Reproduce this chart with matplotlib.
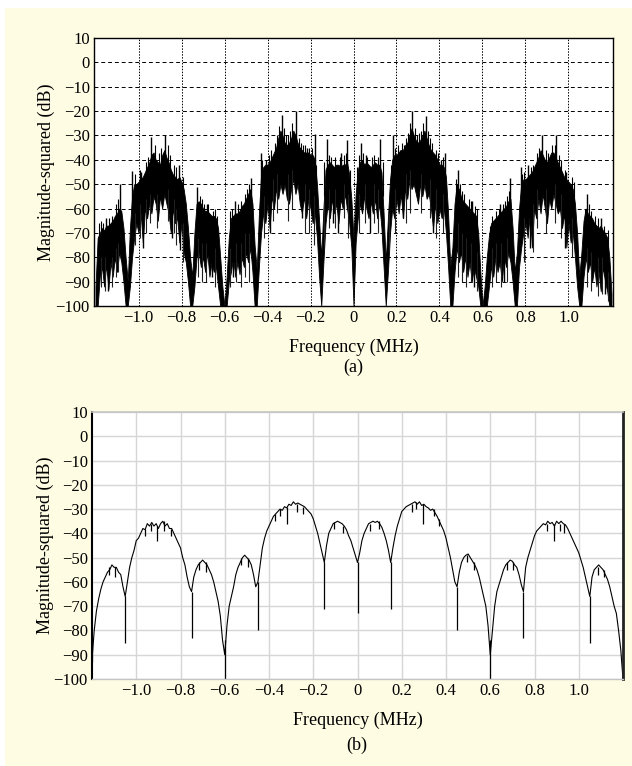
import numpy as np
import matplotlib.pyplot as plt
from matplotlib.patches import Rectangle

plt.rcParams['font.family'] = ['Liberation Serif', 'DejaVu Serif']

# sample frequencies in MHz, 0.01 MHz apart
freq = np.round(np.linspace(-1.2, 1.2, 241), 2)

# (a) noisy spectrum, read as the top and bottom edge of the black band (dB)
upper_a = [
    -92, -72, -70, -68, -69, -67, -67, -66, -65, -63,
    -62, -60, -61, -68, -80, -90, -68, -55, -50, -50,
    -49, -48, -47, -45, -43, -41, -38, -37, -40, -41,
    -42, -38, -36, -39, -41, -44, -46, -47, -48, -47,
    -49, -52, -58, -68, -80, -88, -70, -58, -57, -58,
    -60, -61, -61, -62, -63, -63, -64, -68, -80, -92,
    -100, -88, -72, -64, -63, -62, -62, -61, -59, -58,
    -56, -54, -52, -58, -75, -85, -62, -46, -43, -42,
    -42, -41, -39, -37, -35, -31, -28, -30, -33, -34,
    -33, -31, -28, -30, -33, -35, -36, -37, -37, -37,
    -38, -38, -40, -50, -65, -80, -60, -44, -42, -41,
    -42, -43, -42, -42, -43, -42, -42, -41, -46, -56,
    -72, -54, -44, -41, -40, -42, -41, -42, -43, -42,
    -41, -42, -42, -45, -62, -82, -64, -48, -40, -38,
    -38, -37, -36, -36, -34, -33, -30, -27, -30, -32,
    -33, -32, -30, -28, -31, -34, -36, -37, -38, -40,
    -42, -42, -43, -47, -62, -84, -76, -58, -50, -52,
    -55, -57, -58, -59, -60, -61, -62, -63, -70, -86,
    -100, -92, -80, -71, -66, -65, -64, -63, -62, -61,
    -60, -59, -57, -56, -68, -86, -78, -60, -50, -48,
    -48, -47, -46, -45, -43, -41, -39, -36, -38, -40,
    -41, -39, -37, -37, -39, -41, -43, -45, -47, -48,
    -49, -50, -52, -58, -70, -88, -78, -65, -60, -62,
    -63, -64, -66, -67, -68, -67, -69, -70, -72, -80,
    -95,
]
lower_a = [
    -100, -100, -88, -84, -92, -83, -93, -82, -88, -80,
    -86, -78, -82, -90, -100, -100, -92, -80, -72, -66,
    -70, -62, -74, -60, -64, -58, -62, -55, -58, -65,
    -55, -60, -54, -58, -62, -70, -60, -66, -64, -74,
    -66, -78, -82, -90, -100, -100, -92, -80, -78, -84,
    -80, -86, -78, -88, -82, -86, -84, -92, -100, -100,
    -100, -100, -90, -86, -80, -88, -82, -87, -80, -84,
    -78, -82, -76, -86, -100, -100, -84, -70, -62, -66,
    -58, -68, -55, -60, -52, -56, -50, -54, -50, -56,
    -58, -52, -48, -54, -50, -58, -62, -55, -64, -56,
    -60, -66, -62, -72, -88, -100, -82, -66, -58, -64,
    -56, -62, -58, -66, -56, -60, -54, -60, -66, -76,
    -100, -74, -64, -58, -62, -55, -60, -64, -57, -62,
    -56, -64, -58, -68, -84, -100, -86, -70, -60, -64,
    -56, -62, -54, -64, -52, -56, -48, -52, -50, -54,
    -58, -50, -55, -50, -56, -54, -60, -68, -58, -66,
    -60, -64, -60, -70, -84, -100, -100, -86, -76, -82,
    -78, -86, -80, -88, -82, -90, -84, -88, -92, -100,
    -100, -100, -100, -92, -84, -88, -80, -86, -82, -90,
    -80, -84, -78, -82, -90, -100, -100, -84, -76, -70,
    -66, -72, -62, -76, -60, -64, -56, -62, -54, -60,
    -66, -56, -60, -54, -58, -62, -60, -68, -62, -76,
    -66, -74, -70, -80, -92, -100, -100, -88, -80, -86,
    -82, -90, -84, -92, -86, -94, -84, -90, -94, -100,
    -100,
]

# (a) the tall spikes and deep dips sticking out of the band
spike_f = [-1.15, -1.085, -1.028, -0.99, -0.94, -0.878, -0.81, -0.727, -0.68,
           -0.55, -0.479, -0.43, -0.405, -0.332, -0.268, -0.215, -0.18, -0.123,
           -0.06, -0.028, 0.037, 0.06, 0.125, 0.184, 0.215, 0.273, 0.336, 0.405,
           0.425, 0.486, 0.55, 0.68, 0.73, 0.78, 0.81, 0.877, 0.941, 0.99, 1.087,
           1.15,
           -1.141, -0.978, -0.846, -0.807, -0.66, -0.56, -0.39, -0.24, -0.095,
           -0.072, 0.076, 0.231, 0.37, 0.56, 0.70, 0.82, 0.983, 1.17]
spike_lo = [-85, -70, -62, -60, -55, -55, -60, -75, -80,
            -80, -70, -60, -60, -50, -50, -55, -55, -60,
            -55, -60, -60, -55, -60, -60, -55, -50, -50, -60,
            -60, -70, -80, -80, -75, -65, -60, -55, -55, -60, -70,
            -85,
            -94, -76, -72, -77, -88, -88, -70, -64, -66,
            -70, -70, -64, -70, -92, -90, -76, -76, -95]
spike_hi = [-64, -50, -44.5, -45, -30.5, -30, -42, -51, -58,
            -57, -47.5, -37, -40, -21.5, -20, -35, -29.5, -31.5,
            -37, -32, -33, -38, -31.5, -30, -36, -20, -22, -40,
            -37, -44, -57, -58, -47.5, -43, -42, -30, -30, -45, -54,
            -64,
            -80, -60, -55, -60, -78, -78, -50, -50, -50,
            -50, -50, -50, -50, -80, -80, -60, -60, -85]

# (a) the finer teeth along the top edge of the band
teeth_up_f = [-1.185, -1.175, -1.165, -1.135, -1.125, -1.105, -1.095,
              -1.015, -0.995, -0.965, -0.955, -0.925, -0.905, -0.895, -0.865,
              -0.855, -0.835, -0.825, -0.795,
              -0.715, -0.705, -0.695, -0.675, -0.655, -0.645, -0.635,
              -0.575, -0.565, -0.535, -0.525, -0.505, -0.495, -0.485,
              -0.425, -0.395, -0.385, -0.365, -0.355, -0.345, -0.325, -0.315,
              -0.305, -0.295, -0.285, -0.255, -0.245, -0.235, -0.225, -0.205,
              -0.195, -0.175,
              -0.135, -0.115, -0.105, -0.085, -0.065, -0.045, -0.035, -0.015,
              0.015, 0.025, 0.045, 0.065, 0.085, 0.095, 0.115, 0.135,
              0.175, 0.195, 0.205, 0.225, 0.235, 0.245, 0.255, 0.265, 0.285,
              0.295, 0.305, 0.315, 0.325, 0.345, 0.355, 0.365, 0.385, 0.395,
              0.415,
              0.475, 0.495, 0.505, 0.515, 0.535, 0.545, 0.565, 0.575,
              0.635, 0.645, 0.665, 0.675, 0.695, 0.705, 0.715, 0.725,
              0.785, 0.795, 0.825, 0.835, 0.855, 0.865, 0.895, 0.905, 0.925,
              0.935, 0.955, 0.965, 0.985, 1.015, 1.025,
              1.075, 1.095, 1.105, 1.125, 1.135, 1.165, 1.185]
teeth_up_lo = [-80, -80, -80, -78, -78, -75, -72,
               -60, -58, -55, -52, -50, -52, -50, -50,
               -52, -55, -56, -60,
               -75, -75, -75, -75, -78, -78, -80,
               -78, -76, -74, -72, -70, -68, -66,
               -52, -50, -48, -46, -45, -42, -42, -44,
               -44, -42, -40, -44, -46, -48, -48, -50,
               -50, -55,
               -55, -52, -52, -52, -52, -52, -52, -58,
               -56, -52, -52, -52, -52, -52, -52, -55,
               -55, -50, -48, -48, -46, -44, -42, -40, -42,
               -44, -42, -42, -40, -42, -44, -46, -48, -50,
               -52,
               -64, -66, -68, -70, -72, -74, -75, -76,
               -80, -78, -76, -75, -74, -72, -70, -68,
               -60, -58, -56, -55, -50, -50, -50, -50, -48,
               -48, -52, -54, -58, -60, -62,
               -75, -72, -74, -76, -78, -80, -82]
teeth_up_hi = [-66, -65, -66, -64, -63, -58, -56,
               -46, -44, -41, -39, -34, -37, -35, -34,
               -38, -42, -43, -47,
               -55, -56, -58, -58, -61, -60, -63,
               -61, -60, -58, -57, -54, -52, -50,
               -40, -38, -36, -33, -30, -26, -27, -30,
               -30, -28, -25, -31, -33, -34, -34, -35,
               -35, -42,
               -41, -38, -39, -39, -39, -38, -37, -44,
               -43, -38, -37, -39, -39, -38, -39, -41,
               -42, -35, -34, -33, -34, -31, -29, -25, -27,
               -30, -29, -28, -25, -28, -31, -33, -36, -37,
               -39,
               -48, -50, -53, -54, -56, -57, -59, -60,
               -67, -63, -61, -60, -58, -57, -55, -53,
               -46, -45, -43, -42, -37, -35, -36, -37, -34,
               -34, -38, -40, -44, -47, -49,
               -60, -58, -61, -63, -64, -67, -69]

# (a) the finer teeth along the bottom edge of the band
teeth_dn_f = [-1.175, -1.155, -1.125, -1.105, -1.095, -1.015, -0.995, -0.965,
              -0.945, -0.915, -0.865, -0.835, -0.825, -0.795, -0.725, -0.705,
              -0.685, -0.645, -0.575, -0.545, -0.525, -0.505, -0.485, -0.415,
              -0.375, -0.355, -0.305, -0.285, -0.225, -0.205, -0.185, -0.135,
              -0.115, -0.085, -0.045, -0.025,
              0.025, 0.055, 0.095, 0.115, 0.165, 0.195, 0.245, 0.265, 0.315,
              0.355, 0.385, 0.415, 0.485, 0.505, 0.525, 0.545, 0.575, 0.645,
              0.665, 0.685, 0.715, 0.795, 0.835, 0.855, 0.895, 0.935, 0.965,
              1.015, 1.085, 1.105, 1.135, 1.155, 1.185]
teeth_dn_lo = [-92, -94, -92, -88, -86, -75, -72, -70,
               -66, -68, -65, -70, -75, -82, -88, -90,
               -90, -92, -92, -90, -92, -88, -90, -72,
               -65, -62, -65, -60, -70, -70, -75, -75,
               -68, -68, -64, -72,
               -70, -66, -66, -70, -78, -70, -66, -62, -62,
               -64, -72, -70, -88, -90, -92, -90, -94, -92,
               -90, -92, -90, -82, -78, -68, -70, -66, -72,
               -80, -92, -94, -96, -95, -98]
teeth_dn_hi = [-80, -80, -80, -76, -74, -62, -58, -56,
               -54, -54, -52, -56, -60, -66, -72, -74,
               -74, -76, -76, -74, -74, -70, -70, -55,
               -48, -46, -46, -44, -50, -52, -55, -58,
               -52, -52, -50, -54,
               -54, -50, -50, -52, -62, -52, -46, -44, -46,
               -48, -52, -54, -66, -70, -72, -74, -78, -76,
               -74, -74, -72, -64, -58, -52, -52, -50, -54,
               -64, -76, -78, -80, -80, -86]

# (b) smoothed spectrum (dB)
mag_b = [
    -92, -80, -72, -67, -63, -60, -58, -56, -55, -53,
    -54, -54, -56, -57, -62, -66, -60, -54, -50, -47,
    -43, -42, -40, -38, -38.5, -36, -37, -35.5, -37, -36,
    -38, -36, -35, -37, -36, -38, -38, -40, -42, -44,
    -46, -50, -53, -58, -62, -64, -58, -55, -53, -52,
    -51, -52, -53, -55, -57, -60, -64, -68, -74, -84,
    -90, -78, -70, -66, -62, -57, -54, -52, -50, -49,
    -50, -51, -53, -57, -62, -60, -53, -46, -42, -39,
    -37, -35, -33, -32, -31, -30, -30.5, -29, -29.5, -28,
    -28.5, -27, -28, -27.5, -28, -28.5, -29, -30, -31, -32,
    -34, -37, -40, -44, -48, -52, -45, -40, -38, -36,
    -35.5, -35, -35.5, -36, -37, -38.5, -41, -43, -46, -49,
    -52, -48, -43, -40, -38, -36, -35.5, -35, -35.5, -35,
    -36, -37.5, -40, -43, -47, -52, -46, -41, -37, -34,
    -31, -30, -29, -28.5, -28, -27.5, -27, -28, -27, -28.5,
    -28, -29, -29.5, -30.5, -30, -31.5, -33, -35, -37, -39,
    -42, -46, -50, -55, -60, -62, -56, -52, -50, -49,
    -48.5, -50, -51.5, -53, -55, -58, -62, -66, -70, -78,
    -90, -80, -70, -64, -61, -58, -55, -53, -52, -51,
    -51.5, -53, -54, -57, -61, -64, -54, -50, -47, -44,
    -41, -39, -38, -37, -36, -36.5, -35, -36, -35.5, -37,
    -35, -36, -35, -36, -36.5, -38, -40, -42, -44, -46,
    -48, -51, -54, -58, -62, -66, -58, -55, -54, -53,
    -54, -55, -57, -59, -62, -66, -70, -73, -80, -88,
    -100,
]

# (b) thin notches and small teeth hanging from the curve
notch_f = [-1.2, -1.05, -0.905, -0.75, -0.60, -0.45, -0.32, -0.15, 0.0,
           0.15, 0.295, 0.45, 0.60, 0.75, 0.89, 1.05,
           -1.125, -1.095, -0.96, -0.935, -0.875, -0.845, -0.715, -0.685,
           -0.525, -0.495, -0.375, -0.35, -0.275, -0.245, -0.105, -0.065,
           0.055, 0.095, 0.245, 0.265, 0.345, 0.37, 0.495, 0.525, 0.675,
           0.705, 0.855, 0.915, 0.935, 1.085, 1.115]
notch_top = [-84, -66, -37, -64, -84, -60, -29, -52, -52,
             -52, -28, -62, -84, -64, -36, -66,
             -54, -54, -38, -36, -35, -38, -52, -52,
             -50, -50, -32, -30, -28, -29, -35.5, -37,
             -36, -35, -28, -27, -30, -34, -49, -52, -52,
             -52, -36, -36, -36, -54, -55]
notch_bottom = [-93, -85, -43, -83, -100, -80, -36, -71, -73,
                -71, -36, -80, -100, -83, -43, -85,
                -57, -58, -41, -39, -39, -41, -55, -56,
                -53, -54, -35, -33, -31, -32, -38, -40,
                -39, -38, -31, -30, -33, -37, -52, -55, -55,
                -55, -39, -39, -40, -57, -58]

xticks = [-1.0, -0.8, -0.6, -0.4, -0.2, 0, 0.2, 0.4, 0.6, 0.8, 1.0]
xticklabels = ['\u22121.0', '\u22120.8', '\u22120.6', '\u22120.4', '\u22120.2', '0',
               '0.2', '0.4', '0.6', '0.8', '1.0']
yticks = [10, 0, -10, -20, -30, -40, -50, -60, -70, -80, -90, -100]
yticklabels = [str(v).replace('-', '\u2212') for v in yticks]

cream = '#fefce3'

fig = plt.figure(figsize=(6.32, 7.66), dpi=100)
fig.patch.set_facecolor('white')
fig.add_artist(Rectangle((5 / 632, 0), 1, 758 / 766, transform=fig.transFigure,
                         facecolor=cream, edgecolor='none', zorder=-10))


def setup(ax, xlim, ylab_x):
    ax.set_facecolor('white')
    ax.set_xlim(xlim)
    ax.set_ylim(-100, 10)
    ax.set_xticks(xticks, xticklabels)
    ax.set_yticks(yticks, yticklabels)
    ax.tick_params(length=0, labelsize=12, pad=3)
    ax.set_axisbelow(True)
    ax.set_xlabel('Frequency (MHz)', fontsize=13, labelpad=9)
    ax.set_ylabel('Magnitude-squared (dB)', fontsize=13)
    ax.yaxis.set_label_coords(ylab_x, 0.5)


# top panel (a)
ax1 = fig.add_axes([94 / 632, 1 - 306 / 766, 519 / 632, 268 / 766])
setup(ax1, (-1.207, 1.207), -0.075)
ax1.yaxis.grid(True, color='black', lw=0.7, linestyle=(0, (4, 3)))
ax1.xaxis.grid(True, color='black', lw=0.7, linestyle=(0, (1.5, 1.5)))
for s in ax1.spines.values():
    s.set_color('black')
    s.set_linewidth(1.0)
ax1.fill_between(freq, lower_a, upper_a, color='black', lw=0.6)
ax1.vlines(spike_f, spike_lo, spike_hi, color='black', lw=1.0)
ax1.vlines(teeth_up_f, teeth_up_lo, teeth_up_hi, color='black', lw=0.8)
ax1.vlines(teeth_dn_f, teeth_dn_lo, teeth_dn_hi, color='#202020', lw=0.8)
ax1.set_ylim(-100, 10)
fig.text(353 / 632, 1 - 367 / 766, '(a)', ha='center', va='center', fontsize=13)

# bottom panel (b)
ax2 = fig.add_axes([92 / 632, 1 - 679 / 766, 531 / 632, 267 / 766])
setup(ax2, (-1.2, 1.2), -0.072)
ax2.grid(True, color='#d6d6d6', lw=1.0, linestyle='-')
ax2.spines['left'].set_color('black')
ax2.spines['left'].set_linewidth(1.5)
ax2.spines['right'].set_color('#222222')
ax2.spines['right'].set_linewidth(2.0)
ax2.spines['top'].set_color('#c4c4c4')
ax2.spines['top'].set_linewidth(1.2)
ax2.spines['bottom'].set_color('#c4c4c4')
ax2.spines['bottom'].set_linewidth(1.0)
ax2.plot(freq, mag_b, color='black', lw=0.8)
ax2.vlines(notch_f, notch_bottom, notch_top, color='black', lw=0.9)
fig.text(357 / 632, 1 - 745 / 766, '(b)', ha='center', va='center', fontsize=13)

fig.savefig('out.png', dpi=100, facecolor=fig.get_facecolor())
